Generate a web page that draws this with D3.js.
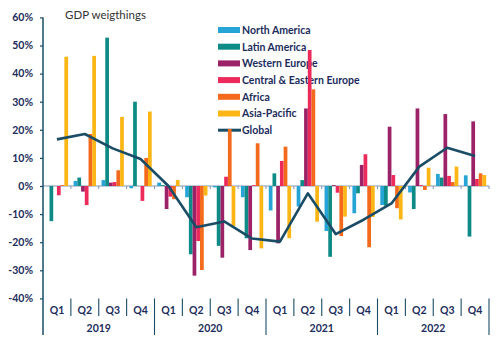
<!DOCTYPE html>
<html>
<head>
<meta charset="utf-8">
<script src="https://cdn.jsdelivr.net/npm/d3@7"></script>
<style>
  html, body { margin: 0; padding: 0; background: #fff; }
  svg { display: block; }
  text { font-family: Lato, "Open Sans", sans-serif; }
</style>
</head>
<body>
<svg id="chart" width="503" height="344"></svg>
<script>
// ---- data ----
const years = ["2019", "2020", "2021", "2022"];
const quarterLabels = ["Q1", "Q2", "Q3", "Q4"];
const seriesNames = ["North America", "Latin America", "Western Europe", "Central & Eastern Europe", "Africa", "Asia-Pacific"];
const northAmerica  = [0, 1.8, 2.1, -0.8, 1.2, -4, -0.5, -4, -8.7, -7.3, -16, -9.7, -6.8, -2.3, 4.3, 3.8];
const latinAmerica  = [-12.5, 3, 52.8, 30, 0.3, -24.3, -21.3, -18.6, 4.5, 2.1, -25.2, -2.6, -7, -8.2, 3, -18];
const westernEurope = [0, -2, 1.2, 0, -8.2, -31.9, -25.5, -22.8, -20.4, 27.6, 0.3, 7.5, 21.1, 27.6, 25.6, 23];
const centralEasternEurope = [-3.3, -6.8, 1.4, -5.3, -3.8, -19.6, 3.3, 0.3, 8.9, 48.4, -2.4, 11.3, 3.9, 0.3, 3.6, 2.5];
const africa        = [0.3, 18.5, 5.6, 10, -4.7, -29.9, 20.3, 15.2, 14, 34.4, -17.8, -21.8, -7.9, -1.4, 1.4, 4.5];
const asiaPacific   = [46, 46.3, 24.6, 26.5, 2.1, -3.4, -14.2, -22.2, -18.6, -12.7, -10.9, -11, -11.9, 6.5, 6.9, 3.9];
const global        = [16.6, 18.5, 13.4, 9.6, 0, -14.7, -12.6, -18.7, -19.8, -2.6, -17.1, -12, -6.2, 6.9, 13.6, 10.7];
const yTicks = [-40, -30, -20, -10, 0, 10, 20, 30, 40, 50, 60];
const legendTitle = "GDP weigthings";
const globalName = "Global";

// ---- styles ----
const colors = ["#27a4d6", "#0f8b87", "#9b2266", "#ec2a5c", "#f36a1c", "#fbb616"];
const globalColor = "#1a4c66";
const navy = "#1c2d5c";

const seriesValues = [northAmerica, latinAmerica, westernEurope, centralEasternEurope, africa, asiaPacific];
const quarters = [];
years.forEach(y => quarterLabels.forEach(q => quarters.push(y + " " + q)));

const svg = d3.select("#chart");
const pLeft = 43, pRight = 489, pTop = 17.4, pBottom = 298.4;

const x0 = d3.scaleBand().domain(quarters).range([pLeft, pRight]).paddingInner(0.2).paddingOuter(0.1);
const x1 = d3.scaleBand().domain(seriesNames).range([0, x0.bandwidth()]);
const y = d3.scaleLinear().domain([-40, 60]).range([pBottom, pTop]);
const step = x0.step();
const boundary = q => x0(q) - step * x0.paddingInner() / 2 ;

// legend
svg.append("text").attr("x", 65).attr("y", 19).attr("font-size", 11.5)
  .attr("fill", "#333").text(legendTitle);
const lg = svg.append("g");
seriesNames.forEach((name, i) => {
  const yy = 30 + i * 16.7;
  lg.append("rect").attr("x", 218).attr("y", yy - 3).attr("width", 22).attr("height", 6).attr("fill", colors[i]);
  lg.append("text").attr("x", 242).attr("y", yy + 3.8).attr("font-size", 10.5).attr("font-weight", 700)
    .attr("fill", navy).text(name);
});
{
  const yy = 30 + 6 * 16.7;
  lg.append("line").attr("x1", 218).attr("x2", 241).attr("y1", yy).attr("y2", yy)
    .attr("stroke", globalColor).attr("stroke-width", 3);
  lg.append("text").attr("x", 242).attr("y", yy + 3.8).attr("font-size", 10.5).attr("font-weight", 700)
    .attr("fill", navy).text(globalName);
}

// zero line
svg.append("line").attr("x1", pLeft).attr("x2", pRight).attr("y1", y(0)).attr("y2", y(0))
  .attr("stroke", "#8196b3").attr("stroke-width", 1);
quarters.forEach((q, i) => {
  if (i === 0) return;
  svg.append("line").attr("x1", boundary(q)).attr("x2", boundary(q)).attr("y1", y(0)).attr("y2", y(0) + 3)
    .attr("stroke", "#8196b3").attr("stroke-width", 1);
});
svg.append("line").attr("x1", pRight).attr("x2", pRight).attr("y1", y(0)).attr("y2", y(0) + 3)
  .attr("stroke", "#8196b3").attr("stroke-width", 1);

// bars
const bars = svg.append("g");
quarters.forEach((q, qi) => {
  seriesNames.forEach((name, si) => {
    const v = seriesValues[si][qi];
    bars.append("rect")
      .attr("x", x0(q) + x1(name))
      .attr("width", x1.bandwidth())
      .attr("y", y(Math.max(0, v)))
      .attr("height", Math.abs(y(v) - y(0)))
      .attr("fill", colors[si]);
  });
});

// global line
const line = d3.line().x((d, i) => x0(quarters[i]) + x0.bandwidth() / 2).y(d => y(d));
svg.append("path").datum(global).attr("d", line).attr("fill", "none")
  .attr("stroke", globalColor).attr("stroke-width", 2.6).attr("stroke-linejoin", "round");

// y axis
const yAxis = d3.axisLeft(y).tickValues(yTicks).tickFormat(d => d + "%").tickSize(3).tickPadding(7);
const yg = svg.append("g").attr("transform", `translate(${pLeft},0)`).call(yAxis);
yg.select(".domain").remove();
yg.selectAll(".tick line").attr("stroke", globalColor).attr("stroke-width", 1.2);
yg.selectAll(".tick text").attr("font-size", 10.5).attr("font-weight", 700).attr("fill", navy)
  .attr("font-family", "Lato, sans-serif");
svg.append("line").attr("x1", pLeft).attr("x2", pLeft).attr("y1", pTop).attr("y2", 335)
  .attr("stroke", globalColor).attr("stroke-width", 1.5);

// x axis: quarter labels
const xAxis = d3.axisBottom(x0).tickFormat((d, i) => quarterLabels[i % 4]).tickSize(0).tickPadding(0);
const xg = svg.append("g").attr("transform", `translate(0,${pBottom + 8})`).call(xAxis);
xg.select(".domain").remove();
xg.selectAll(".tick text").attr("font-size", 10.5).attr("font-weight", 700).attr("fill", navy)
  .attr("font-family", "Lato, sans-serif");

// separators
quarters.forEach((q, i) => {
  if (i === 0) return;
  const isYear = i % 4 === 0;
  svg.append("line").attr("x1", boundary(q)).attr("x2", boundary(q))
    .attr("y1", pBottom).attr("y2", isYear ? 335 : 316)
    .attr("stroke", globalColor).attr("stroke-width", 1.1);
});
svg.append("line").attr("x1", pRight).attr("x2", pRight).attr("y1", pBottom).attr("y2", 335)
  .attr("stroke", globalColor).attr("stroke-width", 1.1);

// year labels
years.forEach((yr, i) => {
  const a = boundary(quarters[i * 4]);
  const b = i < 3 ? boundary(quarters[i * 4 + 4]) : pRight;
  svg.append("text").attr("x", (a + b) / 2).attr("y", 332).attr("text-anchor", "middle")
    .attr("font-size", 10.5).attr("font-weight", 700).attr("fill", navy).text(yr);
});
</script>
</body>
</html>
